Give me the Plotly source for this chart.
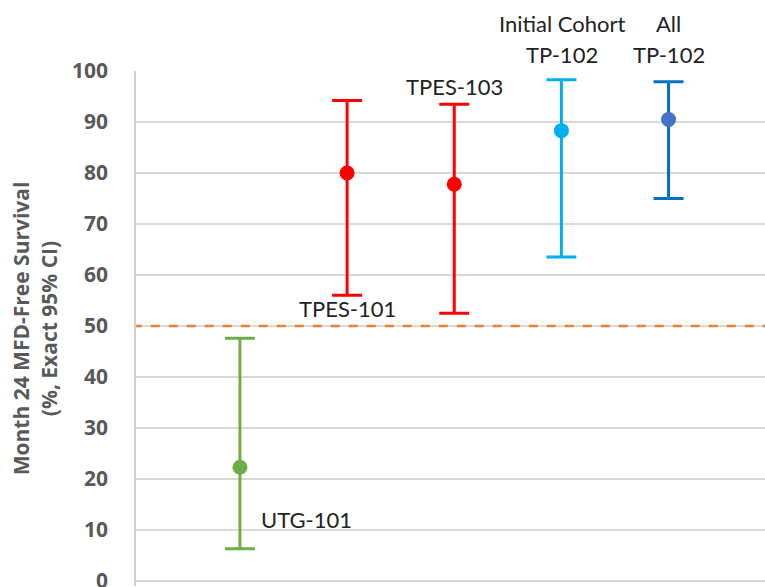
import plotly.graph_objects as go

# Month-24 MFD-free survival estimates with exact 95% CIs
studies = ["UTG-101", "TPES-101", "TPES-103", "Initial Cohort TP-102", "All TP-102"]
positions = [1, 2, 3, 4, 5]
estimates = [22.3, 80.0, 77.8, 88.3, 90.5]
ci_lower = [6.3, 56.0, 52.5, 63.5, 75.0]
ci_upper = [47.6, 94.2, 93.5, 98.3, 97.9]
line_colors = ["#70AD47", "#FF0000", "#FF0000", "#00B0F0", "#0070C0"]
marker_colors = ["#70AD47", "#FF0000", "#FF0000", "#00B0F0", "#4472C4"]
threshold = 50
y_ticks = list(range(0, 101, 10))

fig = go.Figure()

# Reference threshold line
fig.add_trace(go.Scatter(
    x=[0.0, 6.0], y=[threshold, threshold], mode="lines",
    line=dict(color="#ED7D31", width=2.5, dash="dash"),
    hoverinfo="skip", showlegend=False,
))

for xi, est, lo, hi, lc, mc, name in zip(positions, estimates, ci_lower, ci_upper,
                                         line_colors, marker_colors, studies):
    fig.add_trace(go.Scatter(
        x=[xi], y=[est], mode="markers", name=name,
        marker=dict(color=mc, size=15),
        error_y=dict(type="data", symmetric=False,
                     array=[hi - est], arrayminus=[est - lo],
                     color=lc, thickness=3, width=15),
        showlegend=False,
    ))

label_font = dict(family="Lato, Open Sans, sans-serif", size=22, color="#222222")
# (x, y in axis units on a 0-100 scale, text)
labels = [
    (1.62, 13.0, "UTG-101"),
    (2.0, 53.9, "TPES-101"),
    (3.0, 97.0, "TPES-103"),
    (4.01, 109.3, "Initial Cohort"),
    (4.01, 103.3, "TP-102"),
    (5.0, 109.3, "All"),
    (5.0, 103.3, "TP-102"),
]
for lx, ly, txt in labels:
    fig.add_annotation(x=lx, y=ly / 100.0, text=txt, showarrow=False,
                       xref="x", yref="paper", font=label_font,
                       xanchor="center", yanchor="middle")

fig.update_layout(
    width=765, height=587,
    margin=dict(l=136, r=0, t=71, b=1),
    paper_bgcolor="white", plot_bgcolor="white",
    showlegend=False,
)
fig.update_xaxes(range=[0.03, 5.9], showgrid=False, zeroline=False,
                 showticklabels=False, showline=False, automargin=False)
fig.update_yaxes(
    range=[-1, 100], tickvals=y_ticks, ticktext=[str(v) for v in y_ticks],
    showgrid=True, gridcolor="#D9D9D9", gridwidth=1.5, zeroline=False,
    showline=True, linecolor="#D0D0D0", linewidth=1.5, automargin=False,
    tickfont=dict(family="Open Sans, sans-serif", size=21, color="#595959",
                  weight="bold"),
    ticks="", ticklabelstandoff=22, ticklabeloverflow="allow",
    title=dict(text="<b>Month 24 MFD-Free Survival<br>(%, Exact 95% CI)</b>",
               font=dict(family="Open Sans, sans-serif", size=21, color="#595959"),
               standoff=9),
)

fig.write_html("out.html")
